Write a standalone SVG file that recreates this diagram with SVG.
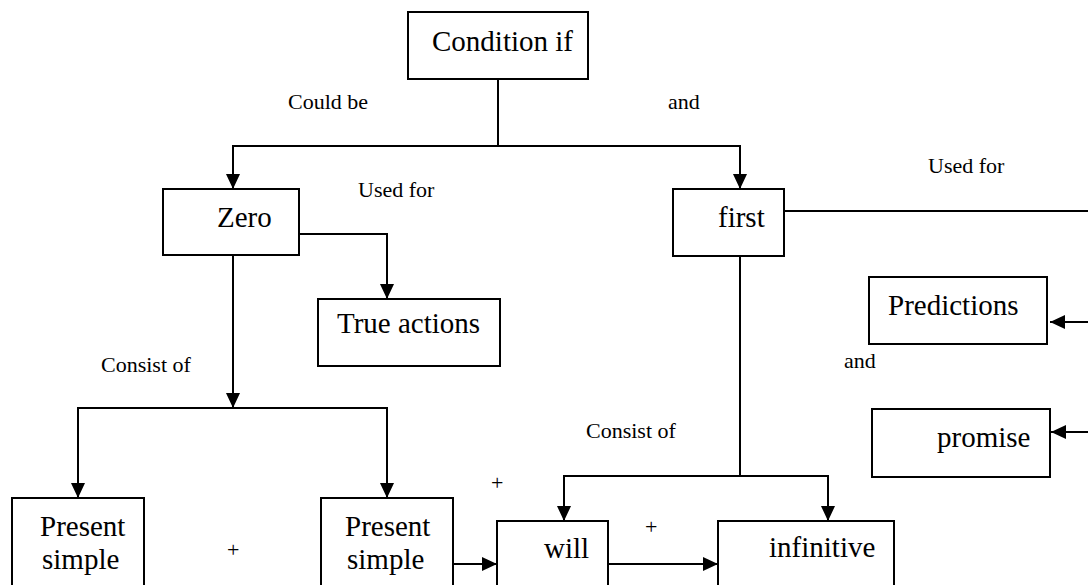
<svg xmlns="http://www.w3.org/2000/svg" width="1088" height="585" viewBox="0 0 1088 585">
<style>
.box{fill:#fff;stroke:#000;stroke-width:2}
.c{fill:none;stroke:#000;stroke-width:2}
</style>
<defs>
<marker id="ah" markerUnits="userSpaceOnUse" markerWidth="16" markerHeight="14" refX="15" refY="7" orient="auto">
<path d="M0,0 L15,7 L0,14 z" fill="#000"/>
</marker>
</defs>
<rect width="1088" height="585" fill="#fff"/>
<g id="connectors">
<path class="c" d="M498,79 V146"/>
<path class="c" d="M498,146 H233 V189" marker-end="url(#ah)"/>
<path class="c" d="M498,146 H740 V189" marker-end="url(#ah)"/>
<path class="c" d="M299,234 H387 V299" marker-end="url(#ah)"/>
<path class="c" d="M233,255 V408" marker-end="url(#ah)"/>
<path class="c" d="M233,408 H78 V498" marker-end="url(#ah)"/>
<path class="c" d="M233,408 H387 V498" marker-end="url(#ah)"/>
<path class="c" d="M784,211 H1100 V432"/>
<path class="c" d="M1100,322 H1050" marker-end="url(#ah)"/>
<path class="c" d="M1100,432 H1051" marker-end="url(#ah)"/>
<path class="c" d="M740,256 V476"/>
<path class="c" d="M740,476 H564 V521" marker-end="url(#ah)"/>
<path class="c" d="M740,476 H828 V521" marker-end="url(#ah)"/>
<path class="c" d="M453,564 H497" marker-end="url(#ah)"/>
<path class="c" d="M608,564 H718" marker-end="url(#ah)"/>
</g>
<g id="labels" font-family="Liberation Serif" font-size="22" fill="#000">
<text x="288" y="109">Could be</text>
<text x="668" y="109">and</text>
<text x="358" y="197">Used for</text>
<text x="928" y="173">Used for</text>
<text x="101" y="372">Consist of</text>
<text x="586" y="438">Consist of</text>
<text x="844" y="368">and</text>
<text x="227" y="557">+</text>
<text x="491" y="490">+</text>
<text x="645" y="534">+</text>
</g>
<g id="condition" font-family="Liberation Serif" font-size="29"><rect class="box" x="408" y="12" width="180" height="67"/><text x="432" y="51">Condition if</text></g>
<g id="zero" font-family="Liberation Serif" font-size="29"><rect class="box" x="163" y="189" width="136" height="66"/><text x="217" y="227">Zero</text></g>
<g id="first" font-family="Liberation Serif" font-size="29"><rect class="box" x="673" y="189" width="111" height="67"/><text x="718" y="227">first</text></g>
<g id="true-actions" font-family="Liberation Serif" font-size="29"><rect class="box" x="318" y="299" width="182" height="67"/><text x="337" y="333">True actions</text></g>
<g id="predictions" font-family="Liberation Serif" font-size="29"><rect class="box" x="869" y="277" width="178" height="67"/><text x="888" y="315">Predictions</text></g>
<g id="promise" font-family="Liberation Serif" font-size="29"><rect class="box" x="872" y="409" width="178" height="68"/><text x="937" y="447">promise</text></g>
<g id="present-simple-1" font-family="Liberation Serif" font-size="29"><rect class="box" x="12" y="498" width="132" height="110"/><text x="40" y="536">Present</text><text x="42" y="569">simple</text></g>
<g id="present-simple-2" font-family="Liberation Serif" font-size="29"><rect class="box" x="321" y="498" width="132" height="110"/><text x="345" y="536">Present</text><text x="347" y="569">simple</text></g>
<g id="will" font-family="Liberation Serif" font-size="29"><rect class="box" x="497" y="521" width="111" height="90"/><text x="544" y="558">will</text></g>
<g id="infinitive" font-family="Liberation Serif" font-size="29"><rect class="box" x="718" y="521" width="176" height="90"/><text x="769" y="557">infinitive</text></g>
</svg>
